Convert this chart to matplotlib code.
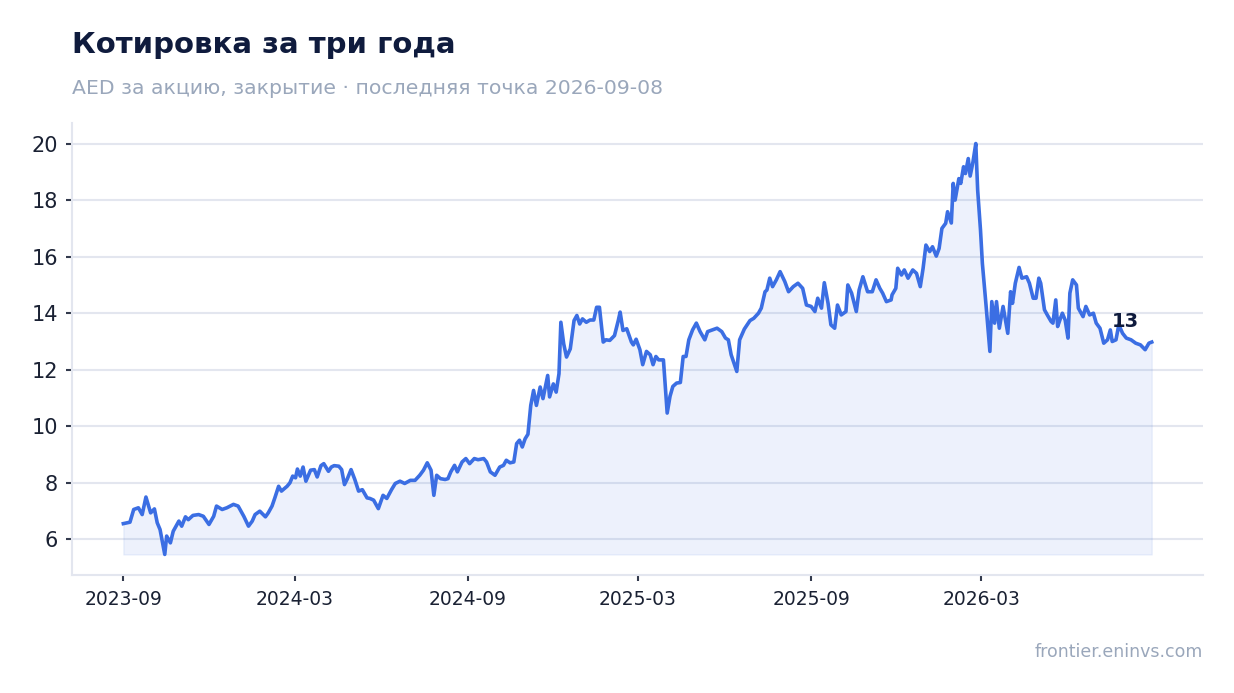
import matplotlib
matplotlib.use("Agg")
import matplotlib.pyplot as plt
import matplotlib.dates as mdates
import pandas as pd

# days since 2023-09-01 and close price (AED)
start_date = "2023-09-01"
day_offsets = [
    0, 7, 11, 16, 20, 24, 29, 33, 36, 39, 44, 46, 50, 53, 59, 62, 66, 69, 74, 80,
    85, 91, 96, 99, 105, 110, 117, 122, 128, 133, 137, 140, 145, 151, 154, 158, 161, 165, 168, 174,
    177, 180, 183, 185, 188, 191, 194, 199, 203, 206, 210, 213, 218, 221, 224, 229, 232, 235, 238, 242,
    246, 250, 254, 259, 262, 266, 271, 276, 280, 285, 289, 294, 299, 305, 310, 315, 319, 323, 327, 330,
    333, 337, 342, 345, 348, 352, 355, 360, 364, 368, 373, 377, 383, 386, 390, 395, 400, 404, 407, 411,
    415, 418, 421, 424, 427, 430, 433, 436, 439, 443, 446, 451, 453, 457, 460, 463, 465, 468, 471, 475,
    479, 482, 485, 488, 492, 496, 500, 503, 506, 510, 513, 517, 522, 526, 528, 531, 535, 540, 542, 545,
    549, 552, 556, 560, 563, 566, 569, 574, 578, 581, 584, 588, 592, 595, 598, 601, 605, 609, 613, 618,
    621, 626, 631, 636, 640, 643, 646, 649, 652, 655, 660, 666, 670, 675, 678, 682, 684, 687, 690, 694,
    698, 703, 707, 712, 717, 722, 726, 731, 735, 738, 742, 745, 749, 752, 756, 759, 763, 768, 770, 774,
    779, 782, 786, 791, 796, 800, 804, 807, 811, 816, 817, 821, 823, 827, 830, 834, 839, 843, 847, 850,
    853, 857, 860, 864, 867, 870, 874, 876, 880, 882, 884, 888, 890, 893, 895, 898, 900, 903, 906, 908,
    911, 913, 917, 921, 923, 926, 928, 931, 935, 940, 943, 945, 948, 952, 955, 960, 963, 967, 970, 973,
    975, 979, 982, 986, 988, 991, 993, 996, 998, 1001, 1004, 1006, 1009, 1013, 1015, 1020, 1023, 1027, 1031, 1034,
    1038, 1042, 1046, 1049, 1051, 1055, 1058, 1062, 1066, 1071, 1076, 1081, 1086, 1090, 1093,
]
close = [
    6.56, 6.61, 7.06, 7.12, 6.88, 7.50, 6.94, 7.08, 6.59, 6.35, 5.47, 6.12, 5.88, 6.29, 6.65, 6.47, 6.80, 6.70, 6.85, 6.88,
    6.82, 6.53, 6.82, 7.18, 7.06, 7.12, 7.24, 7.18, 6.82, 6.47, 6.65, 6.88, 7.00, 6.80, 6.94, 7.18, 7.47, 7.88, 7.71, 7.88,
    8.00, 8.24, 8.18, 8.49, 8.24, 8.56, 8.06, 8.45, 8.47, 8.21, 8.61, 8.68, 8.41, 8.56, 8.61, 8.59, 8.47, 7.94, 8.14, 8.47,
    8.12, 7.71, 7.76, 7.47, 7.45, 7.39, 7.09, 7.56, 7.45, 7.76, 7.98, 8.06, 7.98, 8.09, 8.09, 8.27, 8.45, 8.71, 8.45, 7.56,
    8.27, 8.15, 8.12, 8.15, 8.39, 8.62, 8.39, 8.74, 8.86, 8.68, 8.86, 8.82, 8.86, 8.74, 8.39, 8.27, 8.56, 8.62, 8.80, 8.71,
    8.74, 9.39, 9.51, 9.27, 9.56, 9.72, 10.74, 11.27, 10.74, 11.39, 10.98, 11.80, 11.04, 11.50, 11.21, 11.86, 13.68, 12.92, 12.45, 12.74,
    13.74, 13.92, 13.62, 13.80, 13.68, 13.76, 13.76, 14.21, 14.21, 12.98, 13.06, 13.04, 13.21, 13.74, 14.04, 13.39, 13.45, 12.98, 12.88, 13.08,
    12.71, 12.18, 12.65, 12.53, 12.18, 12.47, 12.35, 12.35, 10.47, 11.06, 11.41, 11.53, 11.55, 12.47, 12.47, 13.06, 13.41, 13.65, 13.35, 13.06,
    13.35, 13.41, 13.47, 13.35, 13.12, 13.06, 12.53, 12.24, 11.94, 13.06, 13.44, 13.74, 13.82, 14.00, 14.18, 14.76, 14.82, 15.24, 14.94, 15.18,
    15.47, 15.12, 14.76, 14.94, 15.06, 14.88, 14.29, 14.24, 14.06, 14.53, 14.18, 15.08, 14.35, 13.59, 13.47, 14.29, 13.94, 14.06, 15.00, 14.71,
    14.06, 14.82, 15.29, 14.76, 14.76, 15.18, 14.88, 14.71, 14.41, 14.47, 14.65, 14.88, 15.59, 15.35, 15.53, 15.24, 15.53, 15.41, 14.94, 15.59,
    16.41, 16.18, 16.35, 16.02, 16.29, 17.00, 17.18, 17.59, 17.19, 18.59, 18.00, 18.76, 18.59, 19.18, 18.94, 19.47, 18.85, 19.35, 20.00, 18.35,
    16.94, 15.76, 14.24, 12.65, 14.41, 13.65, 14.41, 13.47, 14.24, 13.29, 14.76, 14.35, 15.06, 15.62, 15.24, 15.29, 15.06, 14.53, 14.53, 15.24,
    15.06, 14.12, 13.94, 13.71, 13.65, 14.47, 13.53, 13.82, 14.00, 13.76, 13.12, 14.71, 15.18, 15.00, 14.18, 13.88, 14.24, 13.94, 14.00, 13.65,
    13.47, 12.94, 13.06, 13.41, 13.00, 13.06, 13.59, 13.29, 13.12, 13.06, 12.94, 12.88, 12.71, 12.94, 12.98,
]
y_ticks = [6, 8, 10, 12, 14, 16, 18, 20]
x_ticks = ["2023-09-01", "2024-03-01", "2024-09-01", "2025-03-01", "2025-09-01", "2026-03-01"]

title = "Котировка за три года"
subtitle = "AED за акцию, закрытие · последняя точка 2026-09-08"
source = "frontier.eninvs.com"

line_color = "#3b6ee3"
grid_color = "#e3e6ef"
dark = "#0f1b3d"
muted = "#9aa7bb"

dates = pd.Timestamp(start_date) + pd.to_timedelta(day_offsets, unit="D")

plt.rcParams["font.family"] = ["DejaVu Sans"]
fig = plt.figure(figsize=(12.34, 6.93), dpi=100)
ax = fig.add_axes([0.0583, 0.1703, 0.9167, 0.6522])

ax.fill_between(dates, close, min(close), color=line_color, alpha=0.09, linewidth=1)
ax.plot(dates, close, color=line_color, linewidth=2.6, solid_joinstyle="round")

ax.annotate(f"{close[-1]:.0f}", xy=(dates[-1], close[-1]), xytext=(-19, 15),
            textcoords="offset points", ha="center", va="center",
            fontsize=14, fontweight="bold", color=dark)

ax.set_yticks(y_ticks)
ax.set_xticks(pd.to_datetime(x_ticks))
ax.xaxis.set_major_formatter(mdates.DateFormatter("%Y-%m"))

ax.grid(axis="y", color=grid_color, linewidth=1.5)
ax.set_axisbelow(True)
for side in ["top", "right"]:
    ax.spines[side].set_visible(False)
for side in ["left", "bottom"]:
    ax.spines[side].set_color(grid_color)
    ax.spines[side].set_linewidth(1.5)

ax.tick_params(axis="y", labelsize=15, colors="#333a4d", labelcolor="#1a2133", length=4, width=1.5, pad=6)
ax.tick_params(axis="x", labelsize=13.5, colors="#333a4d", labelcolor="#1a2133", length=4.5, width=1.5, pad=6)

fig.text(0.0583, 0.9235, title, fontsize=21, fontweight="bold", color=dark, ha="left", va="baseline")
fig.text(0.0583, 0.865, subtitle, fontsize=14.7, color=muted, ha="left", va="baseline")
fig.text(0.975, 0.052, source, fontsize=12.5, color=muted, ha="right", va="baseline")

fig.savefig("out.png", dpi=100, facecolor="white")
